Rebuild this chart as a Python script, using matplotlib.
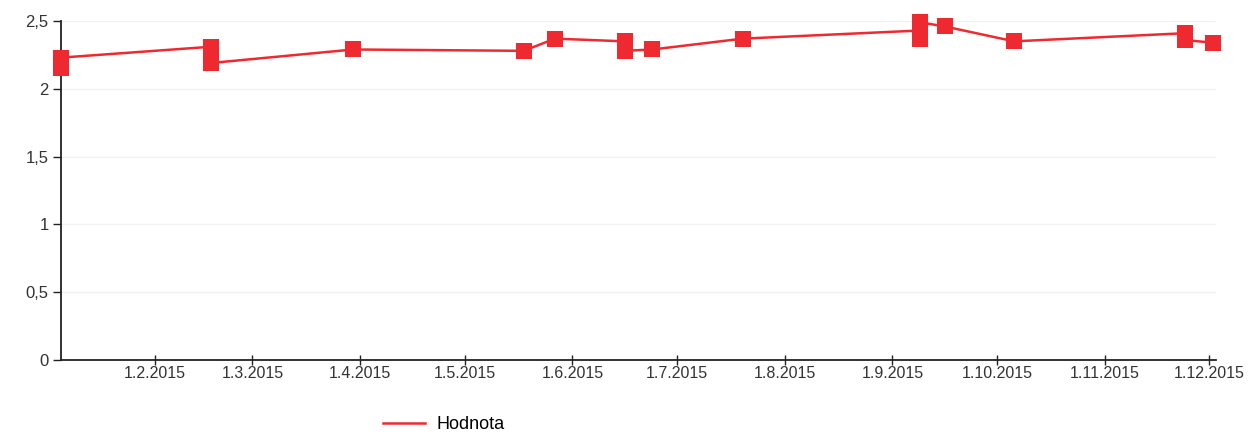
import numpy as np
import pandas as pd
import matplotlib
matplotlib.use('Agg')
import matplotlib.pyplot as plt
from matplotlib.ticker import FuncFormatter

# Data (several values share the same date)
dates = ['2015-01-05', '2015-01-05',
         '2015-02-17', '2015-02-17',
         '2015-03-30',
         '2015-05-18',
         '2015-05-27',
         '2015-06-16', '2015-06-16',
         '2015-06-24',
         '2015-07-20',
         '2015-09-09', '2015-09-09', '2015-09-09',
         '2015-09-16',
         '2015-10-06',
         '2015-11-24', '2015-11-24',
         '2015-12-02']
values = [2.15, 2.23,
          2.31, 2.19,
          2.29,
          2.28,
          2.37,
          2.35, 2.28,
          2.29,
          2.37,
          2.43, 2.37, 2.49,
          2.46,
          2.35,
          2.41, 2.36,
          2.34]
tick_dates = ['2015-02-01', '2015-03-01', '2015-04-01', '2015-05-01', '2015-06-01',
              '2015-07-01', '2015-08-01', '2015-09-01', '2015-10-01', '2015-11-01',
              '2015-12-01']
y_ticks = [0, 0.5, 1, 1.5, 2, 2.5]

x = pd.to_datetime(dates)
xt = pd.to_datetime(tick_dates)

plt.rcParams['font.family'] = ['Liberation Sans', 'DejaVu Sans']

fig = plt.figure(figsize=(12.5, 4.34), dpi=100)
ax = fig.add_axes([0.0488, 0.1705, 0.9240, 0.7811])

red = '#ee2a30'
line, = ax.plot(x, values, color=red, lw=1.8, marker='s', ms=11,
                markeredgewidth=0, label='Hodnota', zorder=3, clip_on=False)

ax.set_ylim(0, 2.5)
ax.set_xlim(x[0], pd.Timestamp('2015-12-03'))
ax.set_yticks(y_ticks)
ax.yaxis.set_major_formatter(FuncFormatter(lambda v, p: ('%g' % v).replace('.', ',')))
ax.set_xticks(xt)
ax.set_xticklabels([d.strftime('%-d.%-m.%Y') for d in xt])

ax.grid(axis='y', color='#f2f2f2', lw=1)
ax.set_axisbelow(True)
for s in ['top', 'right']:
    ax.spines[s].set_visible(False)
ax.spines['left'].set_color('#222222')
ax.spines['bottom'].set_color('#222222')
ax.spines['left'].set_linewidth(1.3)
ax.spines['bottom'].set_linewidth(1.3)

ax.tick_params(axis='y', length=6, width=1, color='#222222', labelsize=12,
               labelcolor='#333333', pad=3)
ax.tick_params(axis='x', direction='inout', length=7, width=1, color='#222222',
               labelsize=11.5, labelcolor='#333333', pad=1)

leg = fig.legend(handles=[line], labels=['Hodnota'], loc='center',
                 bbox_to_anchor=(0.355, 0.022), frameon=False, fontsize=13,
                 handlelength=2.3, handletextpad=0.65)
for h in leg.legend_handles:
    h.set_marker('')

fig.savefig('out.png', dpi=100)
